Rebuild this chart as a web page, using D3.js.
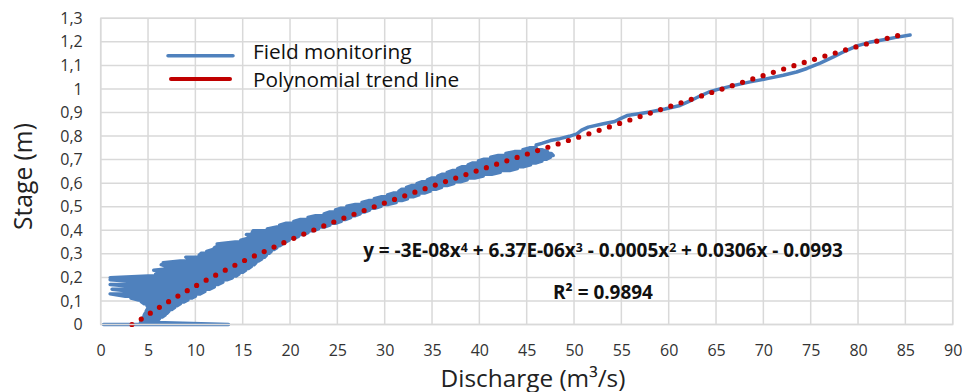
<!DOCTYPE html>
<html><head><meta charset="utf-8">
<script src="https://cdn.jsdelivr.net/npm/d3@7"></script>
<style>body{margin:0;background:#fff} svg{display:block}</style>
</head><body><svg id="c" width="975" height="392"></svg>
<script>
// ---- data ----
const xTicks = [0,5,10,15,20,25,30,35,40,45,50,55,60,65,70,75,80,85,90];
const yTicks = [0,0.1,0.2,0.3,0.4,0.5,0.6,0.7,0.8,0.9,1.0,1.1,1.2,1.3];
const legendLabels = ["Field monitoring", "Polynomial trend line"];
const xTitle = "Discharge (m³/s)";
const yTitle = "Stage (m)";
const equationParts = [["y = -3E-08x",""],["4","sup"],[" + 6.37E-06x",""],["3","sup"],[" - 0.0005x",""],["2","sup"],[" + 0.0306x - 0.0993",""]];
const r2Label = "R² = 0.9894";

// field monitoring, low-stage hysteresis band: [stage, min discharge, max discharge]
const fieldBand = [
 [0.000,0.3,13.5],[0.008,4.2,5.8],[0.016,4.3,6.0],[0.024,4.4,6.2],[0.032,4.5,6.5],
 [0.040,4.6,6.8],[0.048,4.7,7.0],[0.056,4.8,7.2],[0.064,4.9,7.5],[0.072,5.0,7.8],
 [0.080,4.9,8.1],[0.088,4.6,8.4],[0.096,4.3,8.8],[0.104,4.0,9.2],[0.112,3.2,9.6],
 [0.120,2.6,10.0],[0.130,1.0,10.5],[0.140,3.4,11.0],[0.150,1.2,11.5],[0.160,3.8,12.0],
 [0.170,1.0,12.4],[0.180,4.2,12.9],[0.190,1.0,13.4],[0.198,1.0,13.9],[0.206,5.0,14.3],
 [0.214,5.8,14.6],[0.222,6.2,15.0],[0.230,5.6,15.3],[0.238,7.4,15.6],[0.246,7.0,15.9],
 [0.254,6.4,16.2],[0.262,6.6,16.4],[0.270,8.4,16.7],[0.278,9.4,17.0],[0.286,9.0,17.3],
 [0.294,10.4,17.5],[0.302,10.6,17.8],[0.310,11.2,18.0],[0.318,11.8,18.3],[0.326,12.0,18.6],
 [0.334,12.4,18.9],[0.342,12.3,19.2],[0.350,14.2,19.5],[0.358,14.8,19.9],[0.366,15.6,20.4],
 [0.374,15.8,20.9],[0.382,15.4,21.4],[0.390,16.0,21.9],[0.398,16.1,22.4],[0.406,17.6,23.0],
 [0.414,18.6,23.6],[0.422,18.9,24.2],[0.430,19.6,24.8],[0.438,20.4,25.4],[0.446,21.1,25.9],
 [0.454,21.9,26.4],[0.462,22.7,26.9],[0.470,23.6,27.4],[0.478,24.2,27.9],[0.486,24.8,28.4],
 [0.494,25.4,29.0],[0.502,26.0,29.6],[0.510,26.9,30.4],[0.518,27.6,31.2],[0.526,28.3,31.8],
 [0.534,28.9,32.4],[0.542,29.6,33.0],[0.550,30.3,33.6],[0.558,30.9,34.2],[0.566,31.5,34.8],
 [0.574,31.8,35.4],[0.582,32.3,36.0],[0.590,32.9,36.6],[0.598,33.4,37.3],[0.606,33.9,38.0],
 [0.614,34.5,38.7],[0.622,35.0,39.5],[0.630,35.6,40.4],[0.638,36.1,41.3],[0.646,36.6,42.2],
 [0.654,37.2,43.2],[0.662,37.7,44.0],[0.670,38.2,44.7],[0.678,38.8,45.4],[0.686,39.3,46.0],
 [0.694,39.9,46.6],[0.702,40.5,47.1],[0.710,41.2,47.5],[0.718,42.0,47.8],[0.726,42.8,47.6],
 [0.734,43.7,47.2],[0.742,44.6,46.6],[0.750,45.3,46.0]
];
// field monitoring, upper single curve: [discharge, stage]
const fieldUpper = [
 [46.0,0.762],[46.6,0.769],[47.5,0.781],[48.5,0.789],[49.5,0.799],[50.3,0.809],[50.8,0.825],
 [51.5,0.838],[53.1,0.852],[54.3,0.862],[54.9,0.874],[55.6,0.887],[57.0,0.896],[58.0,0.902],
 [59.6,0.915],[61.2,0.930],[62.2,0.948],[63.3,0.970],[64.2,0.986],[65.1,0.997],[66.8,1.014],
 [68.6,1.030],[70.4,1.044],[72.1,1.058],[73.5,1.072],[74.6,1.087],[76.0,1.110],[77.4,1.136],
 [78.7,1.162],[79.9,1.183],[81.2,1.198],[82.7,1.209],[84.0,1.219],[85.5,1.229]
];
// polynomial trend line
const trendQ     = [3.3, 4, 5, 6, 7.5, 10, 12.5, 15, 17.5, 20, 25, 30, 35, 40, 45, 50, 55, 60, 65, 70, 75, 80, 85];
const trendStage = [0.000,0.016,0.042,0.068,0.105,0.163,0.217,0.268,0.314,0.359,0.441,0.516,0.587,0.656,0.723,0.789,0.856,0.924,0.991,1.057,1.121,1.181,1.235];

// ---- chart ----
const svg = d3.select("#c");
svg.append("rect").attr("width",975).attr("height",392).attr("fill","#fff");
const L = 100.7, R = 952.7, T = 18.3, B = 324.5;
const x = d3.scaleLinear().domain([0,90]).range([L,R]);
const y = d3.scaleLinear().domain([0,1.3]).range([B,T]);
const FONT = "'Open Sans', 'DejaVu Sans', sans-serif";
const grid = "#D9D9D9";
const loc = d3.formatLocale({decimal:",", thousands:".", grouping:[3], currency:["",""]});
const fmt = loc.format("~f");

// grid
svg.append("g").selectAll("line").data(xTicks).join("line")
  .attr("x1",d=>x(d)).attr("x2",d=>x(d)).attr("y1",T).attr("y2",B)
  .attr("stroke",grid).attr("stroke-width",1.5);
svg.append("g").selectAll("line").data(yTicks).join("line")
  .attr("x1",L).attr("x2",R).attr("y1",d=>y(d)).attr("y2",d=>y(d))
  .attr("stroke",grid).attr("stroke-width",1.5);

// axes (labels only)
const gx = svg.append("g").attr("transform",`translate(0,${B})`)
  .call(d3.axisBottom(x).tickValues(xTicks).tickSize(0).tickFormat(d=>fmt(d)));
gx.select(".domain").remove();
gx.selectAll("text").attr("y",31.5).attr("dy",null).attr("font-family",FONT).attr("font-size",16).attr("fill","#333");
const gy = svg.append("g").attr("transform",`translate(${L},0)`)
  .call(d3.axisLeft(y).tickValues(yTicks).tickSize(0).tickPadding(18).tickFormat(d=>fmt(+d.toFixed(1))));
gy.select(".domain").remove();
gy.selectAll("text").attr("font-family",FONT).attr("font-size",16).attr("fill","#333");

// field monitoring line
const bandPts = [];
fieldBand.forEach(([s,a,b],i) => {
  if (i % 2 === 0) { bandPts.push([a,s],[b,s]); } else { bandPts.push([b,s],[a,s]); }
});
const fieldPts = bandPts.concat(fieldUpper);
const line = d3.line().x(d=>x(d[0])).y(d=>y(d[1]));
svg.append("path").datum(fieldPts).attr("d",line)
  .attr("fill","none").attr("stroke","#4F81BD").attr("stroke-width",3.5)
  .attr("stroke-linejoin","round").attr("stroke-linecap","round");

// trend line (round dots)
const trendPts = trendQ.map((q,i)=>[q,trendStage[i]]);
svg.append("path").datum(trendPts).attr("d",d3.line().x(d=>x(d[0])).y(d=>y(d[1])).curve(d3.curveMonotoneX))
  .attr("fill","none").attr("stroke","#C00000").attr("stroke-width",5.2)
  .attr("stroke-linecap","round").attr("stroke-dasharray","0 10.8");

// helper: fit text to a measured width
function fit(t, w) {
  const fs = parseFloat(t.attr("font-size"));
  const bw = t.node().getBBox().width;
  t.attr("font-size", fs * w / bw);
  return t;
}

// legend
svg.append("line").attr("x1",168).attr("x2",233).attr("y1",55.7).attr("y2",55.7)
  .attr("stroke","#4F81BD").attr("stroke-width",3.5).attr("stroke-linecap","round");
svg.append("line").attr("x1",171).attr("x2",230).attr("y1",79).attr("y2",79)
  .attr("stroke","#C00000").attr("stroke-width",4).attr("stroke-linecap","round");
svg.append("text").attr("x",253).attr("y",58.5).attr("font-family",FONT).attr("font-size",20.8)
  .attr("fill","#111").text(legendLabels[0]);
svg.append("text").attr("x",253).attr("y",87).attr("font-family",FONT).attr("font-size",20.8)
  .attr("fill","#111").text(legendLabels[1]);

// axis titles
fit(svg.append("text").attr("x",533).attr("y",386.5).attr("text-anchor","middle")
  .attr("font-family",FONT).attr("font-size",20).attr("fill","#222").text(xTitle), 185);
fit(svg.append("text").attr("transform","translate(32,176.5) rotate(-90)").attr("text-anchor","middle")
  .attr("font-family",FONT).attr("font-size",20).attr("fill","#222").text(yTitle), 107);

// equation & R²
const eq = svg.append("text").attr("x",603).attr("y",257).attr("text-anchor","middle")
  .attr("font-family",FONT).attr("font-weight","bold").attr("font-size",16).attr("fill","#111");
equationParts.forEach(([t,k]) => {
  const ts = eq.append("tspan").text(t);
  if (k === "sup") ts.attr("font-size","65%").attr("baseline-shift","45%");
});
fit(eq, 480);
fit(svg.append("text").attr("x",603).attr("y",298.5).attr("text-anchor","middle")
  .attr("font-family",FONT).attr("font-weight","bold").attr("font-size",16).attr("fill","#111").text(r2Label), 100);

// plot border
svg.append("rect").attr("x",L).attr("y",T).attr("width",R-L).attr("height",B-T)
  .attr("fill","none").attr("stroke",grid).attr("stroke-width",1.5);
</script>
</body></html>
